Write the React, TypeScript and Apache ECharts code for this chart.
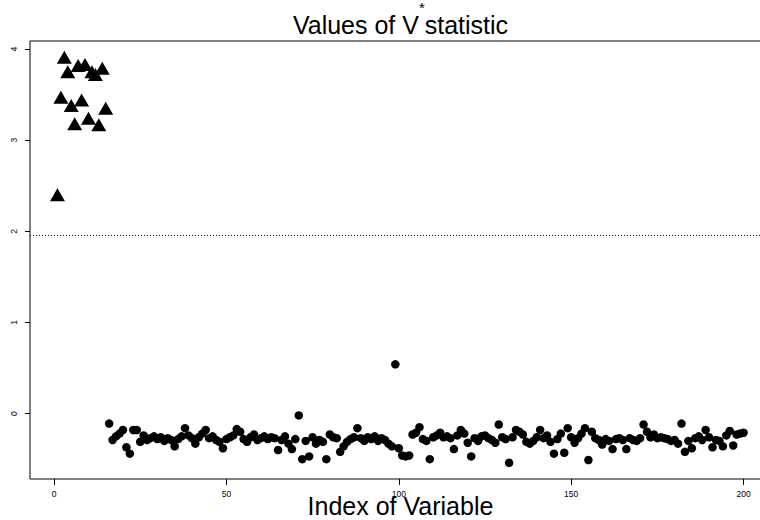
import React, { useEffect, useRef } from "react";
import * as echarts from "echarts";

// V* statistic for variables 1..15 (drawn as triangles)
const triangleValues = [
  2.4, 3.47, 3.91, 3.75, 3.38, 3.18, 3.82, 3.44, 3.83, 3.24, 3.75, 3.72, 3.17, 3.79, 3.35,
];

// V* statistic for variables 16..200 (drawn as filled circles)
const circleStart = 16;
const circleValues = [
  -0.11, -0.29, -0.25, -0.22, -0.18, -0.37, -0.44, -0.18, -0.18, -0.31,
  -0.24, -0.29, -0.27, -0.25, -0.28, -0.26, -0.3, -0.27, -0.29, -0.36,
  -0.28, -0.25, -0.16, -0.24, -0.27, -0.33, -0.26, -0.22, -0.18, -0.27,
  -0.25, -0.29, -0.31, -0.38, -0.28, -0.26, -0.24, -0.17, -0.2, -0.28,
  -0.31, -0.26, -0.23, -0.29, -0.27, -0.25, -0.28, -0.26, -0.27, -0.4,
  -0.29, -0.25, -0.33, -0.39, -0.28, -0.02, -0.5, -0.3, -0.47, -0.26,
  -0.33, -0.29, -0.31, -0.5, -0.23, -0.26, -0.27, -0.42, -0.36, -0.31,
  -0.28, -0.26, -0.16, -0.27, -0.3, -0.26, -0.28, -0.25, -0.3, -0.27,
  -0.29, -0.33, -0.36, 0.54, -0.38, -0.46, -0.47, -0.46, -0.23, -0.21,
  -0.15, -0.28, -0.3, -0.5, -0.26, -0.24, -0.21, -0.26, -0.25, -0.27,
  -0.39, -0.24, -0.18, -0.22, -0.32, -0.47, -0.27, -0.3, -0.25, -0.24,
  -0.27, -0.29, -0.32, -0.12, -0.26, -0.28, -0.54, -0.26, -0.18, -0.2,
  -0.23, -0.31, -0.33, -0.3, -0.26, -0.18, -0.27, -0.24, -0.31, -0.44,
  -0.28, -0.22, -0.43, -0.16, -0.26, -0.32, -0.27, -0.22, -0.16, -0.51,
  -0.2, -0.27, -0.29, -0.34, -0.28, -0.3, -0.39, -0.28, -0.27, -0.29,
  -0.39, -0.27, -0.29, -0.3, -0.27, -0.12, -0.2, -0.26, -0.23, -0.27,
  -0.26, -0.27, -0.28, -0.3, -0.29, -0.33, -0.11, -0.42, -0.3, -0.38,
  -0.27, -0.25, -0.29, -0.18, -0.26, -0.37, -0.29, -0.3, -0.36, -0.24,
  -0.19, -0.35, -0.23, -0.22, -0.21,
];

const xTicks = [0, 50, 100, 150, 200];
const yTicks = [0, 1, 2, 3, 4];
const criticalValue = 1.96;

const FONT = '"Liberation Sans", Arial, Helvetica, sans-serif';

// base-graphics style range: data range widened by 4% on each side
function paddedRange(values: number[]): [number, number] {
  const lo = Math.min(...values);
  const hi = Math.max(...values);
  const d = (hi - lo) * 0.04;
  return [lo - d, hi + d];
}

export default function App() {
  const ref = useRef<HTMLDivElement>(null);

  useEffect(() => {
    const chart = echarts.init(ref.current as HTMLDivElement, null, { renderer: "svg" });

    const triangles = triangleValues.map((v, k) => [k + 1, v]);
    const circles = circleValues.map((v, k) => [k + circleStart, v]);
    const all = [...triangles, ...circles];
    const [xMin, xMax] = paddedRange(all.map((p) => p[0]));
    const [yMin, yMax] = paddedRange(all.map((p) => p[1]));

    const gridLeft = 30;
    const gridTop = 41;
    const gridWidth = 741;
    const gridHeight = 438;
    const centerX = gridLeft + gridWidth / 2;

    chart.setOption({
      animation: false,
      backgroundColor: "#fff",
      textStyle: { fontFamily: FONT },
      grid: {
        left: gridLeft,
        top: gridTop,
        width: gridWidth,
        height: gridHeight,
        show: true,
        borderColor: "#000",
        borderWidth: 1,
        backgroundColor: "transparent",
      },
      xAxis: {
        type: "value",
        position: "bottom",
        min: xMin,
        max: xMax,
        axisLine: { show: false, onZero: false },
        splitLine: { show: false },
        axisTick: {
          show: true,
          customValues: xTicks,
          length: 6,
          lineStyle: { color: "#000", width: 1 },
        },
        axisLabel: {
          customValues: xTicks,
          fontSize: 8.5,
          color: "#000",
          margin: 10,
          fontFamily: FONT,
        },
      },
      yAxis: {
        type: "value",
        position: "left",
        min: yMin,
        max: yMax,
        axisLine: { show: false, onZero: false },
        splitLine: { show: false },
        axisTick: {
          show: true,
          customValues: yTicks,
          length: 5,
          lineStyle: { color: "#000", width: 1 },
        },
        axisLabel: {
          customValues: yTicks,
          rotate: 90,
          fontSize: 8.5,
          color: "#000",
          margin: 12,
          fontFamily: FONT,
        },
      },
      graphic: [
        {
          type: "text",
          x: centerX,
          y: 0,
          silent: true,
          style: {
            text: "{m|Values of V}{s|*}{m|statistic}",
            align: "center",
            verticalAlign: "top",
            textAlign: "center",
            textVerticalAlign: "top",
            fill: "#000",
            rich: {
              m: { fontSize: 25, fontFamily: FONT, lineHeight: 50, fill: "#000" },
              s: {
                fontSize: 15,
                fontFamily: FONT,
                lineHeight: 20,
                verticalAlign: "top",
                fill: "#000",
              },
            },
          },
        },
        {
          type: "text",
          x: centerX,
          y: 505.5,
          silent: true,
          style: {
            text: "Index of Variable",
            font: `25px ${FONT}`,
            fontSize: 25,
            fontFamily: FONT,
            align: "center",
            verticalAlign: "middle",
            textAlign: "center",
            textVerticalAlign: "middle",
            fill: "#000",
          },
        },
      ],
      series: [
        {
          type: "scatter",
          data: triangles,
          symbol: "triangle",
          symbolSize: [15, 13],
          itemStyle: { color: "#000", opacity: 1 },
          silent: true,
          emphasis: { disabled: true },
          markLine: {
            silent: true,
            symbol: "none",
            label: { show: false },
            lineStyle: { color: "#000", type: [1, 2], width: 1, opacity: 1 },
            data: [{ yAxis: criticalValue }],
          },
        },
        {
          type: "scatter",
          data: circles,
          symbol: "circle",
          symbolSize: 8.5,
          itemStyle: { color: "#000", opacity: 1 },
          silent: true,
          emphasis: { disabled: true },
        },
      ],
    });

    return () => chart.dispose();
  }, []);

  return (
    <div
      ref={ref}
      style={{ position: "fixed", left: 0, top: 0, width: 780, height: 520, background: "#fff" }}
    />
  );
}
